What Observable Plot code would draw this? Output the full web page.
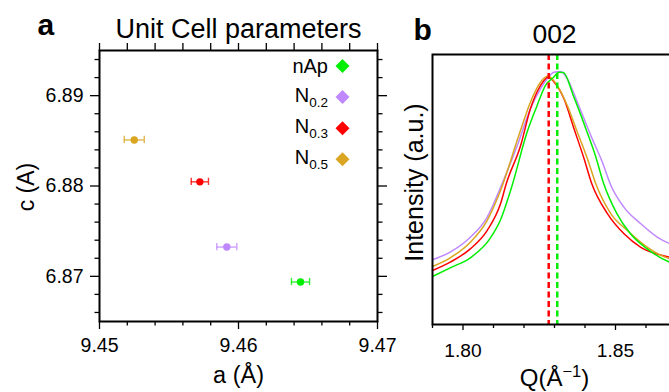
<!DOCTYPE html>
<html><head><meta charset="utf-8">
<script src="https://cdn.jsdelivr.net/npm/d3@7"></script>
<script src="https://cdn.jsdelivr.net/npm/@observablehq/plot@0.6"></script>
<style>
html,body{margin:0;padding:0;background:#fff;overflow:hidden;}
#wrap{position:relative;width:669px;height:392px;overflow:hidden;background:#fff;}
#pa{position:absolute;left:0;top:0;width:400px;height:392px;}
#pb{position:absolute;left:380px;top:0;width:320px;height:392px;}
#wrap svg{max-width:none !important;}
</style>
</head><body><div id="wrap"><div id="pa"></div><div id="pb"></div></div>
<script>
const FONT = "'Liberation Sans', Arial, Helvetica, sans-serif";

// ---------- Panel a: unit cell parameters ----------
const sampleNames = ["nAp", "N0.2", "N0.3", "N0.5"];
const legendBase = ["nAp", "N", "N", "N"];
const legendSub = ["", "0.2", "0.3", "0.5"];
const sampleColors = ["#00ee00", "#bf88ff", "#ff0000", "#daa520"];
const aValues = [9.46446, 9.45916, 9.45722, 9.45250];
const cValues = [6.86937, 6.87324, 6.88046, 6.88510];
const aErrors = [0.00065, 0.00072, 0.00062, 0.00072];
const aTicks = [9.45, 9.46, 9.47];
const aMinorTicks = [9.452, 9.454, 9.456, 9.458, 9.462, 9.464, 9.466, 9.468];
const cTicks = [6.87, 6.88, 6.89];
const cMinorTicks = [6.866, 6.868, 6.872, 6.874, 6.876, 6.878, 6.882, 6.884, 6.886, 6.888, 6.892, 6.894];
const titleA = "Unit Cell parameters";
const xLabelA = "a (Å)";
const yLabelA = "c (A)";

// ---------- Panel b: 002 reflection ----------
const qNAp = [1.7900, 1.7958, 1.8024, 1.8089, 1.8122, 1.8161, 1.8210, 1.8243, 1.8270, 1.8297, 1.8314, 1.8329, 1.8363, 1.8407, 1.8434, 1.8460, 1.8505, 1.8549, 1.8604, 1.8677, 1.8700];
const iNAp = [17.8, 21.0, 24.7, 31.9, 38.5, 51.5, 71.2, 81.1, 88.5, 91.6, 93.4, 93.3, 84.4, 71.2, 62.6, 52.6, 41.0, 33.6, 28.0, 23.1, 22.2];
const qN02 = [1.790, 1.7958, 1.8024, 1.8079, 1.8128, 1.8178, 1.8221, 1.8254, 1.8276, 1.8298, 1.8320, 1.8342, 1.8375, 1.8419, 1.8457, 1.8485, 1.8528, 1.8583, 1.8638, 1.8679, 1.870];
const iN02 = [24.0, 26.8, 32.3, 39.7, 52.1, 66.3, 79.9, 87.3, 91.0, 93.4, 93.7, 91.0, 82.3, 70.0, 60.1, 51.5, 43.4, 37.3, 32.3, 29.9, 29.0];
const qN03 = [1.790, 1.7958, 1.8024, 1.8079, 1.8123, 1.8142, 1.8189, 1.8221, 1.8254, 1.8280, 1.8298, 1.8331, 1.8364, 1.8397, 1.8422, 1.8474, 1.8528, 1.8583, 1.8679, 1.870];
const iN03 = [20.0, 23.1, 28.0, 34.8, 44.7, 52.2, 66.3, 79.9, 88.5, 91.7, 89.9, 83.6, 72.5, 61.4, 52.2, 41.0, 33.6, 28.6, 24.9, 24.3];
const qN05 = [1.790, 1.7958, 1.8024, 1.8079, 1.8123, 1.8183, 1.8221, 1.8254, 1.8278, 1.8309, 1.8342, 1.8375, 1.8408, 1.8435, 1.8485, 1.8539, 1.8605, 1.8679, 1.870];
const iN05 = [21.5, 24.7, 30.5, 38.5, 49.6, 70.0, 82.3, 89.7, 92.0, 88.5, 81.1, 71.2, 61.4, 52.2, 41.0, 34.8, 28.6, 24.3, 23.8];
const peakQ = [1.8281, 1.8309];
const peakColors = ["#ff0000", "#00ee00"];
const qTicks = [1.80, 1.85];
const qMinorTicks = [1.79, 1.81, 1.82, 1.83, 1.84, 1.86];
const titleB = "002";
const xLabelBParts = ["Q(Å", "−1", ")"];
const yLabelB = "Intensity (a.u.)";

const fmt2 = d3.format(".2f");

// ---------- build panel a ----------
const cells = sampleNames.map((name, i) => ({name, a: aValues[i], c: cValues[i], ea: aErrors[i], color: sampleColors[i]}));
const CAP = 0.0004;

const plotA = Plot.plot({
  width: 400, height: 392,
  marginLeft: 99, marginRight: 23, marginTop: 50, marginBottom: 71,
  style: {fontFamily: FONT, color: "#000", background: "transparent", overflow: "visible", maxWidth: "none"},
  x: {domain: [9.45, 9.47]},
  y: {domain: [6.865, 6.895]},
  color: {type: "identity"},
  marks: [
    Plot.axisX({ticks: aTicks, anchor: "bottom", tickSize: 8, tickPadding: 9, tickFormat: fmt2, fontSize: 19.5, strokeWidth: 1.3, label: null}),
    Plot.axisX({ticks: aMinorTicks, anchor: "bottom", tickSize: 4.5, fill: "none", strokeWidth: 1.3, label: null}),
    Plot.axisX({ticks: aTicks.concat(aMinorTicks), anchor: "top", tickSize: 8, fill: "none", strokeWidth: 1.3, label: null}),
    Plot.axisY({ticks: cTicks, anchor: "left", tickSize: 9, tickPadding: 7, tickFormat: fmt2, fontSize: 19.5, strokeWidth: 1.3, label: null}),
    Plot.axisY({ticks: cMinorTicks, anchor: "left", tickSize: 4.5, fill: "none", strokeWidth: 1.3, label: null}),
    Plot.axisY({ticks: cTicks, anchor: "right", tickSize: 9, fill: "none", strokeWidth: 1.3, label: null}),
    Plot.axisY({ticks: cMinorTicks, anchor: "right", tickSize: 4.5, fill: "none", strokeWidth: 1.3, label: null}),
    Plot.frame({stroke: "#000", strokeWidth: 2}),
    Plot.ruleY(cells, {y: "c", x1: d => d.a - d.ea, x2: d => d.a + d.ea, stroke: d => d.color, strokeWidth: 1.4, strokeOpacity: 0.8}),
    Plot.ruleX(cells, {x: d => d.a - d.ea, y1: d => d.c - CAP, y2: d => d.c + CAP, stroke: d => d.color, strokeWidth: 1.4, strokeOpacity: 0.8}),
    Plot.ruleX(cells, {x: d => d.a + d.ea, y1: d => d.c - CAP, y2: d => d.c + CAP, stroke: d => d.color, strokeWidth: 1.4, strokeOpacity: 0.8}),
    Plot.dot(cells, {x: "a", y: "c", r: 3.7, fill: d => d.color, stroke: null}),
    Plot.text([titleA], {text: d => d, frameAnchor: "top", dy: -12.3, lineAnchor: "bottom", fontSize: 27}),
    Plot.text(["a"], {text: d => d, frameAnchor: "top-left", textAnchor: "start", dx: -62, dy: -15.7, lineAnchor: "bottom", fontSize: 30, fontWeight: "bold"}),
    Plot.text([xLabelA], {text: d => d, frameAnchor: "bottom", dy: 61, lineAnchor: "bottom", fontSize: 23.5}),
    Plot.text([yLabelA], {text: d => d, frameAnchor: "left", textAnchor: "middle", rotate: -90, dx: -82, dy: 1, lineAnchor: "top", fontSize: 23})
  ]
});
document.getElementById("pa").appendChild(plotA);

// legend inside panel a
{
  const svg = d3.select(plotA);
  const g = svg.append("g").attr("font-family", FONT).attr("fill", "#000");
  const xText = 328, xDiamond = 342.5, y0 = 66, step = 31.1, half = 7;
  sampleNames.forEach((name, i) => {
    const cy = y0 + i * step;
    g.append("path")
      .attr("d", `M${xDiamond},${cy - half}L${xDiamond + half},${cy}L${xDiamond},${cy + half}L${xDiamond - half},${cy}Z`)
      .attr("fill", sampleColors[i]);
    const t = g.append("text").attr("x", xText).attr("y", cy + (legendSub[i] ? 4.6 : 7.2))
      .attr("text-anchor", "end").attr("font-size", 20);
    t.append("tspan").text(legendBase[i]);
    if (legendSub[i]) t.append("tspan").attr("font-size", 13.5).attr("dy", 5).text(legendSub[i]);
  });
}

// ---------- build panel b ----------
const curves = [
  {name: "N0.2", q: qN02, i: iN02, color: sampleColors[1]},
  {name: "N0.3", q: qN03, i: iN03, color: sampleColors[2]},
  {name: "N0.5", q: qN05, i: iN05, color: sampleColors[3]},
  {name: "nAp", q: qNAp, i: iNAp, color: sampleColors[0]}
];
const lineMarks = curves.map(c => Plot.line(c.q.map((q, k) => ({q, v: c.i[k]})), {x: "q", y: "v", stroke: c.color, strokeWidth: 1.5, curve: "monotone-x"}));

const plotB = Plot.plot({
  width: 320, height: 392,
  marginLeft: 52, marginRight: 24, marginTop: 54, marginBottom: 68,
  style: {fontFamily: FONT, color: "#000", background: "transparent", overflow: "visible", maxWidth: "none"},
  x: {domain: [1.79, 1.87]},
  y: {domain: [0, 100], axis: null},
  color: {type: "identity"},
  marks: [
    Plot.axisX({ticks: qTicks, anchor: "bottom", tickSize: 6, tickPadding: 13, tickFormat: fmt2, fontSize: 19.2, strokeWidth: 1.3, label: null}),
    Plot.axisX({ticks: qMinorTicks, anchor: "bottom", tickSize: 4, fill: "none", strokeWidth: 1.3, label: null}),
    ...lineMarks,
    Plot.ruleX(peakQ, {x: d => d, stroke: (d, k) => peakColors[k], strokeWidth: 2.5, strokeDasharray: "6,3.5"}),
    Plot.frame({stroke: "#000", strokeWidth: 2}),
    Plot.text([titleB], {text: d => d, frameAnchor: "top", dy: -11.5, lineAnchor: "bottom", fontSize: 26.5}),
    Plot.text(["b"], {text: d => d, frameAnchor: "top-left", textAnchor: "start", dx: -19, dy: -15, lineAnchor: "bottom", fontSize: 30, fontWeight: "bold"}),
    Plot.text([xLabelBParts.join("")], {text: d => d, frameAnchor: "bottom", dy: 61, lineAnchor: "bottom", fontSize: 24}),
    Plot.text([yLabelB], {text: d => d, frameAnchor: "left", textAnchor: "middle", rotate: -90, dx: -27, dy: -7, lineAnchor: "top", fontSize: 25})
  ]
});
document.getElementById("pb").appendChild(plotB);

// superscript in the Q label
d3.select(plotB).selectAll("text").filter(function() { return this.textContent === xLabelBParts.join(""); })
  .each(function() {
    const t = d3.select(this);
    t.text(null);
    t.append("tspan").text(xLabelBParts[0]);
    t.append("tspan").attr("font-size", 16.5).attr("dy", -8.5).text(xLabelBParts[1]);
    t.append("tspan").attr("dy", 8.5).text(xLabelBParts[2]);
  });
</script>
</body></html>
